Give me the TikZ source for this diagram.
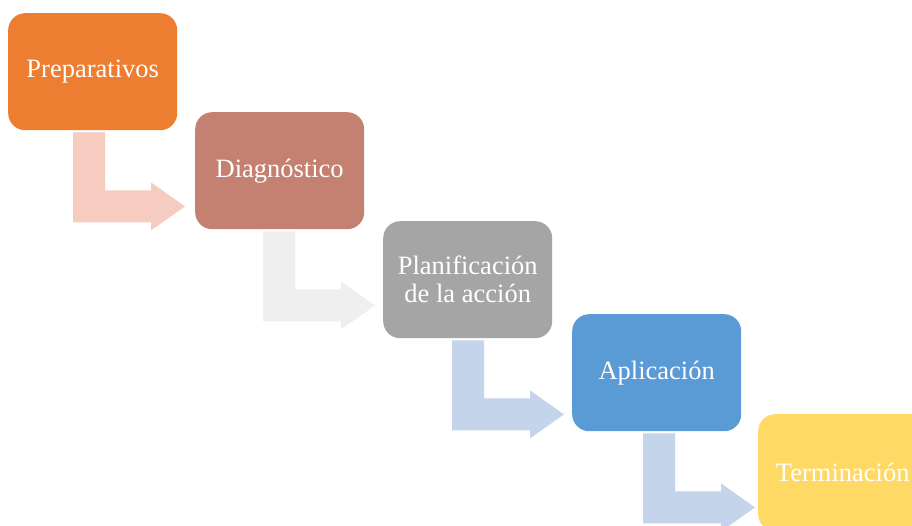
\documentclass[tikz,border=0pt]{standalone}
\usepackage{fontspec}
\setmainfont{Liberation Serif}
\definecolor{cOrange}{HTML}{ED7D31}
\definecolor{cBrown}{HTML}{C48171}
\definecolor{cGray}{HTML}{A5A5A5}
\definecolor{cBlue}{HTML}{5B9BD5}
\definecolor{cYellow}{HTML}{FFD966}
\definecolor{aPeach}{HTML}{F6CCC0}
\definecolor{aGray}{HTML}{EFEFEF}
\definecolor{aBlue}{HTML}{C4D4EA}
\tikzset{
  stepbox/.style={rounded corners=17pt, minimum width=169pt, minimum height=117pt,
    inner sep=0pt, text=white, align=center, anchor=north west,
    font=\fontsize{26.5}{28}\selectfont},
}
% #1 source node, #2 colour, #3 horizontal offset of the stem from the box's left side
\newcommand\bentarrow[3]{%
  \begin{scope}[shift={(#1.south west)}, xshift=#3pt]
    \fill[#2] (0,2) -- (32,2) -- (32,60) -- (78,60) -- (78,52) -- (112,76)
      -- (78,100) -- (78,92) -- (0,92) -- cycle;
  \end{scope}}
\begin{document}
\begin{tikzpicture}[x=1pt,y=-1pt]
\useasboundingbox[fill=white] (0,0) rectangle (912,525);
\node[stepbox, fill=cOrange] (b1) at (8,13) {Preparativos};
\node[stepbox, fill=cBrown] (b2) at (195,112) {Diagnóstico};
\node[stepbox, fill=cGray] (b3) at (383,221) {Planificación\\de la acción};
\node[stepbox, fill=cBlue] (b4) at (572,314) {Aplicación};
\node[stepbox, fill=cYellow] (b5) at (758,414) {Terminación};
\bentarrow{b1}{aPeach}{65}
\bentarrow{b2}{aGray}{68}
\bentarrow{b3}{aBlue}{69}
\bentarrow{b4}{aBlue}{71}
\end{tikzpicture}
\end{document}
